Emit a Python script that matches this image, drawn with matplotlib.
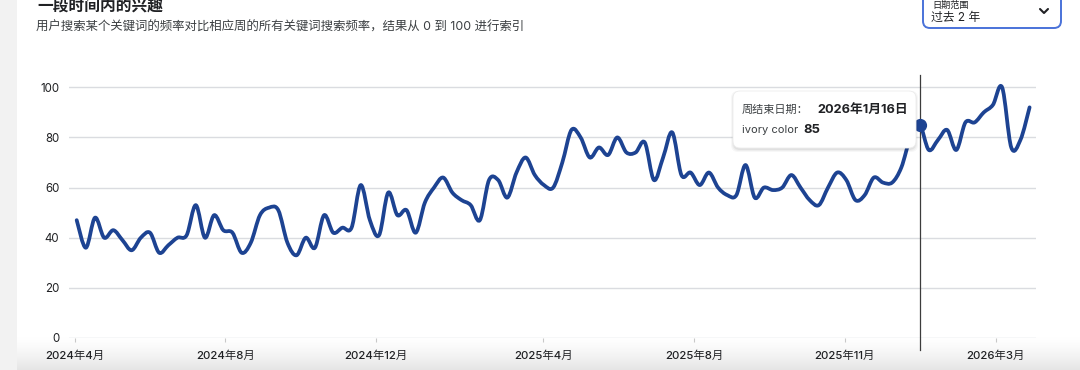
import numpy as np
import matplotlib
matplotlib.use("Agg")
from matplotlib import pyplot as plt
from matplotlib.path import Path
from matplotlib.patches import PathPatch, FancyBboxPatch, Rectangle

plt.rcParams['font.family'] = ['Inter', 'Noto Sans CJK SC', 'DejaVu Sans']

# weekly interest values (index = week)
interest = [
    47, 36, 48, 40, 43, 39, 35, 40, 42, 34,
    37, 40, 41, 53, 40, 49, 43, 42, 34, 38,
    49, 52, 51, 38, 33, 40, 36, 49, 42, 44,
    44, 61, 47, 41, 58, 49, 51, 42, 54, 60,
    64, 58, 55, 53, 47, 63, 63, 56, 66, 72,
    65, 61, 60, 70, 83, 80, 72, 76, 73, 80,
    74, 74, 78, 63, 72, 82, 65, 66, 61, 66,
    60, 57, 57, 69, 56, 60, 59, 60, 65, 60,
    55, 53, 60, 66, 63, 55, 57, 64, 62, 62,
    68, 80, 85, 75, 79, 83, 75, 86, 86, 90,
    93, 100, 76, 79, 92,
]
tick_weeks = [-0.2, 16.2, 32.7, 50.9, 67.4, 83.8, 100.3]
tick_labels = ['2024年4月', '2024年8月', '2024年12月', '2025年4月',
               '2025年8月', '2025年11月', '2026年3月']
y_ticks = [0, 20, 40, 60, 80, 100]

hover_week = 92
hover_date = '2026年1月16日'
term = 'ivory color'

title = '一段时间内的兴趣'
subtitle = '用户搜索某个关键词的频率对比相应周的所有关键词搜索频率，结果从 0 到 100 进行索引'

LINE = '#1d4392'
GRID = '#dadce0'
TXT = '#202124'


def smooth_path(xs, ys):
    # catmull-rom segments turned into cubic bezier pieces
    pts = np.column_stack([xs, ys]).astype(float)
    verts = [pts[0]]
    codes = [Path.MOVETO]
    n = len(pts)
    for i in range(n - 1):
        p0 = pts[max(i - 1, 0)]
        p1 = pts[i]
        p2 = pts[i + 1]
        p3 = pts[min(i + 2, n - 1)]
        c1 = p1 + (p2 - p0) / 6.0
        c2 = p2 - (p3 - p1) / 6.0
        verts += [c1, c2, p2]
        codes += [Path.CURVE4] * 3
    return Path(verts, codes)


W, H = 1080, 370
fig = plt.figure(figsize=(W / 100, H / 100), dpi=100)

# background: card, grey strip on the left, soft shadow at the bottom
bg = fig.add_axes([0, 0, 1, 1], zorder=0)
bg.set_xlim(0, W)
bg.set_ylim(H, 0)
bg.axis('off')
bg.add_patch(Rectangle((0, 0), 17, H, color='#f2f2f2', lw=0))
n = 60
alpha = np.linspace(0, 1, n) ** 1.4
cols = np.ones((n, 1, 4))
cols[..., :3] = 0.89
cols[:, 0, 3] = alpha * 0.9
bg.imshow(cols, extent=(0, W, 370, 336), aspect='auto', interpolation='bilinear',
          origin='upper')

# main chart
left, right, bottom, top = 69, 1036, 338, 62
ax = fig.add_axes([left / W, 1 - bottom / H, (right - left) / W, (bottom - top) / H], zorder=1)
ax.set_facecolor('none')
ax.set_xlim(-0.84, 104.7)
ax.set_ylim(0, (bottom - top) / 2.507)

weeks = np.arange(len(interest))
ax.add_patch(PathPatch(smooth_path(weeks, interest), fill=False, edgecolor=LINE,
                       lw=2.7, capstyle='round', joinstyle='round', zorder=3))

ax.set_yticks(y_ticks)
ax.set_yticklabels([str(v) for v in y_ticks])
ax.yaxis.grid(True, color=GRID, lw=1)
ax.set_axisbelow(True)
ax.tick_params(axis='y', length=0, pad=7, labelsize=8.3, labelcolor=TXT)
ax.set_xticks(tick_weeks)
ax.set_xticklabels(tick_labels)
ax.tick_params(axis='x', length=3, width=0.8, color='#c8c8c8', pad=6,
               labelsize=8.2, labelcolor=TXT)
for lbl in ax.get_xticklabels():
    lbl.set_fontweight('medium')
for s in ax.spines.values():
    s.set_visible(False)

# hover line and point
ax.plot([hover_week, hover_week], [104.9, -4.8], color='#3c3c3c', lw=0.9,
        clip_on=False, zorder=4)
ax.plot(hover_week, interest[hover_week], 'o', color=LINE, ms=8.5, zorder=5,
        clip_on=False)

# overlay for header, dropdown and tooltip (pixel coordinates)
ov = fig.add_axes([0, 0, 1, 1], zorder=2)
ov.set_xlim(0, W)
ov.set_ylim(H, 0)
ov.axis('off')
ov.patch.set_alpha(0)

ov.text(37, 11.5, title, fontsize=11.3, fontweight='bold', color=TXT,
        ha='left', va='baseline')
ov.text(36, 28, subtitle, fontsize=8.95, color='#3c4043', ha='left', va='center')

# dropdown
ov.add_patch(FancyBboxPatch((923, -12), 138, 40, boxstyle='round,pad=0,rounding_size=7',
                            facecolor='white', edgecolor='#4a72d9', lw=1.4))
ov.text(932, 5.5, '日期范围', fontsize=6.6, color=TXT, ha='left', va='center')
ov.text(931, 18, '过去 2 年', fontsize=8.5, color=TXT, ha='left', va='center')
ov.plot([1040, 1044, 1048], [9, 13, 9], color=TXT, lw=1.5, solid_capstyle='round')

# tooltip
for i, a in enumerate([0.05, 0.04, 0.03]):
    ov.add_patch(FancyBboxPatch((733 - i, 92 - i + 1), 183 + 2 * i, 57 + 2 * i,
                                boxstyle='round,pad=0,rounding_size=7',
                                facecolor='black', alpha=a, lw=0))
ov.add_patch(FancyBboxPatch((733, 91), 183, 57, boxstyle='round,pad=0,rounding_size=7',
                            facecolor='white', edgecolor='#ececec', lw=0.6))
ov.text(742, 110, '周结束日期：', fontsize=8, color='#3c4043', ha='left', va='center')
ov.text(817, 110, hover_date, fontsize=9.2, fontweight='bold', color=TXT,
        ha='left', va='center')
ov.text(742, 130, term, fontsize=8, color='#3c4043', ha='left', va='center')
ov.text(803, 130, str(interest[hover_week]), fontsize=9.4, fontweight='bold',
        color=TXT, ha='left', va='center')

fig.savefig('out.png', dpi=100)
